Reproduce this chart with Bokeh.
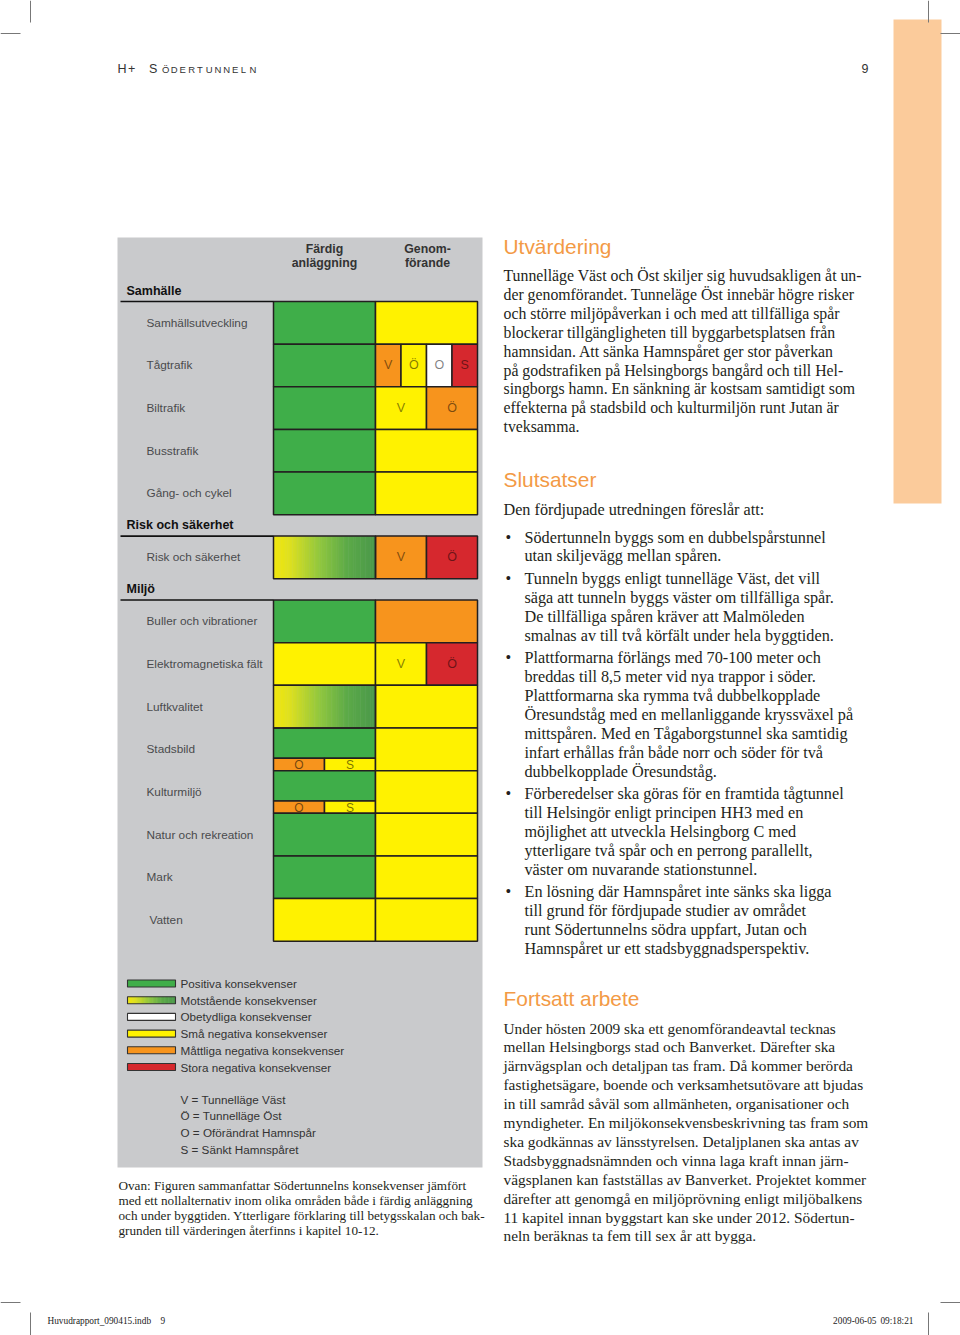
import numpy as np
from bokeh.plotting import figure
from bokeh.models import Range1d
from bokeh.core.properties import value
from bokeh.embed import file_html
from bokeh.resources import INLINE

SANS = "Liberation Sans"
SERIF = "Liberation Serif"

# ---------------- data ----------------
group_names = ["Samhälle", "Risk och säkerhet", "Miljö"]
categories = ["Samhällsutveckling", "Tågtrafik", "Biltrafik", "Busstrafik", "Gång- och cykel",
              "Risk och säkerhet",
              "Buller och vibrationer", "Elektromagnetiska fält", "Luftkvalitet", "Stadsbild",
              "Kulturmiljö", "Natur och rekreation", "Mark", "Vatten"]
category_group = [0, 0, 0, 0, 0, 1, 2, 2, 2, 2, 2, 2, 2, 2]
column_titles = [["Färdig", "anläggning"], ["Genom-", "förande"]]
# rating codes: P positiva, M motstående, N obetydliga, S små neg., A måttliga neg., L stora neg.
fardig_rating = ["P", "P", "P", "P", "P", "M", "P", "S", "M", "P", "P", "P", "P", "S"]
fardig_sub = [[], [], [], [], [], [], [], [], [],
              [("O", "A"), ("S", "S")], [("O", "A"), ("S", "S")], [], [], []]
genom_segments = [
    [("", "S")],
    [("V", "A"), ("Ö", "S"), ("O", "N"), ("S", "L")],
    [("V", "S"), ("Ö", "A")],
    [("", "S")],
    [("", "S")],
    [("V", "A"), ("Ö", "L")],
    [("", "A")],
    [("V", "S"), ("Ö", "L")],
    [("", "S")],
    [("", "S")],
    [("", "S")],
    [("", "S")],
    [("", "S")],
    [("", "S")],
]
legend_codes = ["P", "M", "N", "S", "A", "L"]
legend_labels = ["Positiva konsekvenser", "Motstående konsekvenser", "Obetydliga konsekvenser",
                 "Små negativa konsekvenser", "Måttliga negativa konsekvenser", "Stora negativa konsekvenser"]
key_labels = ["V = Tunnelläge Väst", "Ö = Tunnelläge Öst", "O = Oförändrat Hamnspår", "S = Sänkt Hamnspåret"]

caption_lines = [
    "Ovan: Figuren sammanfattar Södertunnelns konsekvenser jämfört",
    "med ett nollalternativ inom olika områden både i färdig anläggning",
    "och under byggtiden. Ytterligare förklaring till betygsskalan och bak-",
    "grunden till värderingen återfinns i kapitel 10-12.",
]
utv_lines = [
    "Tunnelläge Väst och Öst skiljer sig huvudsakligen åt un-",
    "der genomförandet. Tunneläge Öst innebär högre risker",
    "och större miljöpåverkan i och med att tillfälliga spår",
    "blockerar tillgängligheten till byggarbetsplatsen från",
    "hamnsidan. Att sänka Hamnspåret ger stor påverkan",
    "på godstrafiken på Helsingborgs bangård och till Hel-",
    "singborgs hamn. En sänkning är kostsam samtidigt som",
    "effekterna på stadsbild och kulturmiljön runt Jutan är",
    "tveksamma.",
]
slut_intro = "Den fördjupade utredningen föreslår att:"
slut_bullets = [
    ["Södertunneln byggs som en dubbelspårstunnel",
     "utan skiljevägg mellan spåren."],
    ["Tunneln byggs enligt tunnelläge Väst, det vill",
     "säga att tunneln byggs väster om tillfälliga spår.",
     "De tillfälliga spåren kräver att Malmöleden",
     "smalnas av till två körfält under hela byggtiden."],
    ["Plattformarna förlängs med 70-100 meter och",
     "breddas till 8,5 meter vid nya trappor i söder.",
     "Plattformarna ska rymma två dubbelkopplade",
     "Öresundståg med en mellanliggande kryssväxel på",
     "mittspåren. Med en Tågaborgstunnel ska samtidig",
     "infart erhållas från både norr och söder för två",
     "dubbelkopplade Öresundståg."],
    ["Förberedelser ska göras för en framtida tågtunnel",
     "till Helsingör enligt principen HH3 med en",
     "möjlighet att utveckla Helsingborg C med",
     "ytterligare två spår och en perrong parallellt,",
     "väster om nuvarande stationstunnel."],
    ["En lösning där Hamnspåret inte sänks ska ligga",
     "till grund för fördjupade studier av området",
     "runt Södertunnelns södra uppfart, Jutan och",
     "Hamnspåret ur ett stadsbyggnadsperspektiv."],
]
fort_lines = [
    "Under hösten 2009 ska ett genomförandeavtal tecknas",
    "mellan Helsingborgs stad och Banverket. Därefter ska",
    "järnvägsplan och detaljpan tas fram. Då kommer berörda",
    "fastighetsägare, boende och verksamhetsutövare att bjudas",
    "in till samråd såväl som allmänheten, organisationer och",
    "myndigheter. En miljökonsekvensbeskrivning tas fram som",
    "ska godkännas av länsstyrelsen. Detaljplanen ska antas av",
    "Stadsbyggnadsnämnden och vinna laga kraft innan järn-",
    "vägsplanen kan fastställas av Banverket. Projektet kommer",
    "därefter att genomgå en miljöprövning enligt miljöbalkens",
    "11 kapitel innan byggstart kan ske under 2012. Södertun-",
    "neln beräknas ta fem till sex år att bygga.",
]
headings = ["Utvärdering", "Slutsatser", "Fortsatt arbete"]
running_head = "H+ SÖDERTUNNELN"
page_number = "9"
footer_left = ["Huvudrapport_090415.indb", "9"]
footer_right = ["2009-06-05", "09:18:21"]

# ---------------- styles / layout ----------------
rating_colors = {"P": "#3fae49", "S": "#fff200", "A": "#f7941d", "L": "#d6282e", "N": "#ffffff"}
grad_stops = [(0.0, (242, 231, 10)), (0.15, (224, 225, 30)), (0.45, (145, 199, 62)),
              (0.72, (92, 170, 72)), (1.0, (74, 152, 74))]
BORDER = "#231f20"
GRAY = "#c9cacc"
ORANGE_HEAD = "#f39a45"
TEXT = "#231f20"

ROW_H = 42.65
GRID_TOP = 301.0
COL_X = [273.0, 375.0, 477.0]
LABEL_X = 146.0
GROUP_X = 126.0
SUB_FRAC = 0.71


def grad_color(t):
    for (t0, c0), (t1, c1) in zip(grad_stops[:-1], grad_stops[1:]):
        if t <= t1:
            f = (t - t0) / (t1 - t0)
            return "#%02x%02x%02x" % tuple(int(round(a + (b - a) * f)) for a, b in zip(c0, c1))
    return "#%02x%02x%02x" % grad_stops[-1][1]


p = figure(width=960, height=1335, x_range=Range1d(0, 960), y_range=Range1d(1335, 0),
           output_backend="svg", toolbar_location=None,
           x_axis_location=None, y_axis_location=None)
p.min_border_left = p.min_border_right = p.min_border_top = p.min_border_bottom = 0
p.grid.visible = False
p.outline_line_color = None
p.background_fill_color = "white"
p.border_fill_color = "white"

# page decorations
p.quad(left=[893], right=[941], top=[19], bottom=[503], fill_color="#fbcb9b", line_color=None)
crop = dict(x0=[30, 0, 928, 940, 0, 30, 940, 928], y0=[0, 33, 0, 33, 1302, 1312, 1302, 1312],
            x1=[30, 20, 928, 960, 20, 30, 960, 928], y1=[22, 33, 22, 33, 1302, 1335, 1302, 1335])
p.segment(x0=crop["x0"], y0=crop["y0"], x1=crop["x1"], y1=crop["y1"], line_color="#777777", line_width=1)

# gray panel
p.quad(left=[117], right=[482], top=[237], bottom=[1167], fill_color=GRAY, line_color=None)

# row positions
row_top = []
y = GRID_TOP
group_line_y = {}
for i, g in enumerate(category_group):
    if i > 0 and g != category_group[i - 1]:
        y += ROW_H / 2
    if g not in group_line_y:
        group_line_y[g] = y
    row_top.append(y)
    y += ROW_H

solid = dict(left=[], right=[], top=[], bottom=[], color=[])
grad = dict(left=[], right=[], top=[], bottom=[], color=[])
outline = dict(left=[], right=[], top=[], bottom=[])
letters = dict(x=[], y=[], text=[])
sub_letters = dict(x=[], y=[], text=[])


def add_cell(l, r, t, b, code):
    if code == "M":
        n = 60
        edges = np.linspace(l, r, n + 1)
        for k in range(n):
            grad["left"].append(edges[k]); grad["right"].append(min(edges[k + 1] + 0.5, r))
            grad["top"].append(t); grad["bottom"].append(b)
            grad["color"].append(grad_color((k + 0.5) / n))
        outline["left"].append(l); outline["right"].append(r)
        outline["top"].append(t); outline["bottom"].append(b)
    else:
        solid["left"].append(l); solid["right"].append(r)
        solid["top"].append(t); solid["bottom"].append(b)
        solid["color"].append(rating_colors[code])


for i in range(len(categories)):
    t = row_top[i]
    b = t + ROW_H
    # Färdig anläggning
    if fardig_sub[i]:
        mid = t + ROW_H * SUB_FRAC
        add_cell(COL_X[0], COL_X[1], t, mid, fardig_rating[i])
        segs = fardig_sub[i]
        w = (COL_X[1] - COL_X[0]) / len(segs)
        for k, (lab, code) in enumerate(segs):
            l = COL_X[0] + k * w
            add_cell(l, l + w, mid, b, code)
            sub_letters["x"].append(l + w / 2); sub_letters["y"].append((mid + b) / 2 + 0.5)
            sub_letters["text"].append(lab)
    else:
        add_cell(COL_X[0], COL_X[1], t, b, fardig_rating[i])
    # Genomförande
    segs = genom_segments[i]
    w = (COL_X[2] - COL_X[1]) / len(segs)
    for k, (lab, code) in enumerate(segs):
        l = COL_X[1] + k * w
        add_cell(l, l + w, t, b, code)
        if lab:
            letters["x"].append(l + w / 2); letters["y"].append((t + b) / 2)
            letters["text"].append(lab)

p.quad(left="left", right="right", top="top", bottom="bottom", fill_color="color",
       line_color=None, source=grad)
p.quad(left="left", right="right", top="top", bottom="bottom", fill_color="color",
       line_color=BORDER, line_width=1.5, source=solid)
p.quad(left="left", right="right", top="top", bottom="bottom", fill_color=None,
       line_color=BORDER, line_width=1.5, source=outline)

p.text(x="x", y="y", text="text", source=letters, text_font=value(SANS), text_font_size="12.5px",
       text_color="#000000", text_alpha=0.5, text_align="center", text_baseline="middle")
p.text(x="x", y="y", text="text", source=sub_letters, text_font=value(SANS), text_font_size="12px",
       text_color="#000000", text_alpha=0.55, text_align="center", text_baseline="middle")

# group header lines and labels
gl_y = [group_line_y[g] for g in range(len(group_names))]
p.segment(x0=[120] * len(gl_y), x1=[COL_X[0]] * len(gl_y), y0=gl_y, y1=gl_y,
          line_color="#111111", line_width=1.6)
p.text(x=[GROUP_X] * len(gl_y), y=[v - 11 for v in gl_y], text=group_names,
       text_font=value(SANS), text_font_style="bold", text_font_size="12.5px",
       text_color="#111111", text_baseline="middle")
label_x = [LABEL_X + (3 if c == "Vatten" else 0) for c in categories]
p.text(x=label_x, y=[t + ROW_H / 2 for t in row_top], text=categories,
       text_font=value(SANS), text_font_size="11.8px", text_color="#4a4a4c", text_baseline="middle")

# column titles
col_cx = [(COL_X[0] + COL_X[1]) / 2, (COL_X[1] + COL_X[2]) / 2]
tx, ty, tt = [], [], []
for c, lines in enumerate(column_titles):
    for j, s in enumerate(lines):
        tx.append(col_cx[c] + (1 if c == 1 else 0)); ty.append(248 + 14 * j); tt.append(s)
p.text(x=tx, y=ty, text=tt, text_font=value(SANS), text_font_style="bold", text_font_size="12.3px",
       text_color="#333333", text_align="center", text_baseline="middle")

# legend
LEG_Y0 = 983.0
LEG_DY = 16.7
solid = dict(left=[], right=[], top=[], bottom=[], color=[])
grad = dict(left=[], right=[], top=[], bottom=[], color=[])
outline = dict(left=[], right=[], top=[], bottom=[])
for i, code in enumerate(legend_codes):
    yc = LEG_Y0 + i * LEG_DY
    add_cell(127, 175, yc - 3.5, yc + 3.5, code)
p.quad(left="left", right="right", top="top", bottom="bottom", fill_color="color",
       line_color=None, source=grad)
p.quad(left="left", right="right", top="top", bottom="bottom", fill_color="color",
       line_color="#333333", line_width=1.1, source=solid)
p.quad(left="left", right="right", top="top", bottom="bottom", fill_color=None,
       line_color="#333333", line_width=1.1, source=outline)
p.text(x=[180] * len(legend_labels), y=[LEG_Y0 + i * LEG_DY for i in range(len(legend_labels))],
       text=legend_labels, text_font=value(SANS), text_font_size="11.7px", text_color="#333333",
       text_baseline="middle")
p.text(x=[180] * len(key_labels), y=[1098.5 + i * LEG_DY for i in range(len(key_labels))],
       text=key_labels, text_font=value(SANS), text_font_size="11.7px", text_color="#333333",
       text_baseline="middle")

# caption
p.text(x=[118] * len(caption_lines), y=[1185 + 15 * i for i in range(len(caption_lines))],
       text=caption_lines, text_font=value(SERIF), text_font_size="13.2px", text_color=TEXT,
       text_baseline="middle")

# right column headings
p.text(x=[503, 503, 503], y=[246, 479, 998], text=headings, text_font=value(SANS),
       text_font_size="20.9px", text_color=ORANGE_HEAD, text_baseline="middle")

LINE = 18.9
p.text(x=[503] * len(utv_lines), y=[275 + LINE * i for i in range(len(utv_lines))], text=utv_lines,
       text_font=value(SERIF), text_font_size="15.8px", text_color=TEXT, text_baseline="middle")

bx, by, bt, dots_y = [503], [509.5], [slut_intro], []
yb = 537.0
for item in slut_bullets:
    dots_y.append(yb)
    for j, s in enumerate(item):
        bx.append(524); by.append(yb); bt.append(s)
        yb += LINE
    yb += 3.6
p.text(x=bx, y=by, text=bt, text_font=value(SERIF), text_font_size="16.2px", text_color=TEXT,
       text_baseline="middle")
p.text(x=[505] * len(dots_y), y=dots_y, text=["•"] * len(dots_y), text_font=value(SERIF),
       text_font_size="16.2px", text_color=TEXT, text_baseline="middle")

p.text(x=[503] * len(fort_lines), y=[1027.5 + LINE * i for i in range(len(fort_lines))], text=fort_lines,
       text_font=value(SERIF), text_font_size="15.35px", text_color=TEXT, text_baseline="middle")

# running head (letter-spaced small caps)
hx, ht = [], []
pos = [117, 127.5, None, 148.5]
for k, ch in enumerate(running_head[:4]):
    if ch == " ":
        continue
    hx.append(pos[k]); ht.append(ch)
sx = 161.5
rest = running_head[4:]
p.text(x=hx, y=[68] * len(hx), text=ht, text_font=value(SANS), text_font_size="12.5px",
       text_color="#333333", text_baseline="middle")
p.text(x=[sx + 8.75 * k for k in range(len(rest))], y=[68.5] * len(rest), text=list(rest),
       text_font=value(SANS), text_font_size="9.5px", text_color="#333333", text_baseline="middle")
p.text(x=[868], y=[68], text=[page_number], text_font=value(SANS), text_font_size="12.5px",
       text_color="#333333", text_align="right", text_baseline="middle")

# footer
p.text(x=[47, 160], y=[1320, 1320], text=footer_left, text_font=value(SERIF), text_font_size="9.3px",
       text_color="#222222", text_baseline="middle")
p.text(x=[876, 913], y=[1320, 1320], text=footer_right, text_font=value(SERIF), text_font_size="9.3px",
       text_color="#222222", text_align="right", text_baseline="middle")

open("out.html", "w").write(file_html(p, INLINE))
